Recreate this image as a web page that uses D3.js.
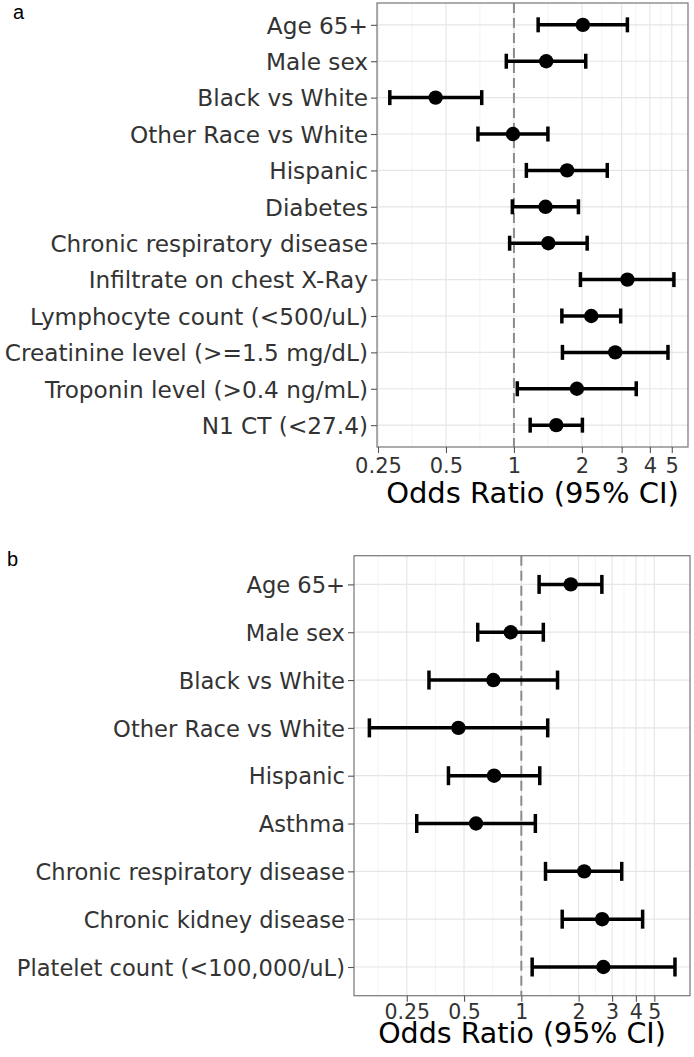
<!DOCTYPE html>
<html>
<head>
<meta charset="utf-8">
<script src="https://cdn.jsdelivr.net/npm/d3@7"></script>
<style>
  html, body { margin: 0; padding: 0; background: #fff; }
  svg { display: block; }
</style>
</head>
<body>
<svg id="chart" width="694" height="1057"></svg>
<script>
// ---------- Panel a data ----------
const categoriesA = [
  "Age 65+", "Male sex", "Black vs White", "Other Race vs White", "Hispanic",
  "Diabetes", "Chronic respiratory disease", "Infiltrate on chest X-Ray",
  "Lymphocyte count (<500/uL)", "Creatinine level (>=1.5 mg/dL)",
  "Troponin level (>0.4 ng/mL)", "N1 CT (<27.4)"
];
const orA    = [2.02, 1.39, 0.45, 0.99, 1.72, 1.38, 1.42, 3.18, 2.20, 2.81, 1.90, 1.54];
const lowerA = [1.28, 0.925, 0.282, 0.693, 1.135, 0.984, 0.957, 1.97, 1.63, 1.64, 1.035, 1.18];
const upperA = [3.18, 2.08, 0.72, 1.414, 2.59, 1.93, 2.11, 5.11, 2.97, 4.81, 3.48, 2.01];

// ---------- Panel b data ----------
const categoriesB = [
  "Age 65+", "Male sex", "Black vs White", "Other Race vs White", "Hispanic",
  "Asthma", "Chronic respiratory disease", "Chronic kidney disease",
  "Platelet count (<100,000/uL)"
];
const orB    = [1.82, 0.88, 0.713, 0.467, 0.719, 0.578, 2.14, 2.66, 2.70];
const lowerB = [1.24, 0.59, 0.327, 0.159, 0.414, 0.282, 1.34, 1.64, 1.14];
const upperB = [2.65, 1.305, 1.55, 1.376, 1.25, 1.185, 3.37, 4.34, 6.42];

// ---------- Axis breaks ----------
const xTicks = [0.25, 0.5, 1, 2, 3, 4, 5];
const xTickLabels = ["0.25", "0.5", "1", "2", "3", "4", "5"];
const minorA = [0.3536, 0.7071, 1.4142, 2.4495, 3.4641, 4.4721];
const minorB = [0.1768, 0.3536, 0.7071, 1.4142, 2.4495, 3.4641, 4.4721];
const xDomainA = [0.2475, 5.9];
const xDomainB = [0.132, 7.7];
const xTitle = "Odds Ratio (95% CI)";

const svg = d3.select("#chart");

function panel(cfg) {
  const { left, right, top, bottom, cats, or, lo, hi, domain, minor,
          tickLabelDy, titleDy, capH, label, labelX, labelY,
          yFont, tickFont, titleFont } = cfg;
  const g = svg.append("g");
  const x = d3.scaleLog().domain(domain).range([left, right]);
  const y = d3.scalePoint().domain(cats).range([top, bottom]).padding(0.6);

  g.append("rect").attr("x", left).attr("y", top)
    .attr("width", right - left).attr("height", bottom - top).attr("fill", "#fff");

  // minor grid
  g.selectAll(".minor").data(minor.filter(v => x(v) > left && x(v) < right)).enter()
    .append("line")
    .attr("x1", d => x(d)).attr("x2", d => x(d))
    .attr("y1", top).attr("y2", bottom)
    .attr("stroke", "#f0f0f0").attr("stroke-width", 0.8);
  // major grid vertical
  g.selectAll(".majorx").data(xTicks).enter().append("line")
    .attr("x1", d => x(d)).attr("x2", d => x(d))
    .attr("y1", top).attr("y2", bottom)
    .attr("stroke", "#e6e6e6").attr("stroke-width", 1.2);
  // major grid horizontal
  g.selectAll(".majory").data(cats).enter().append("line")
    .attr("x1", left).attr("x2", right)
    .attr("y1", d => y(d)).attr("y2", d => y(d))
    .attr("stroke", "#e6e6e6").attr("stroke-width", 1.2);

  // dashed reference line at 1
  g.append("line")
    .attr("x1", x(1)).attr("x2", x(1)).attr("y1", top).attr("y2", bottom)
    .attr("stroke", "#8c8c8c").attr("stroke-width", 2)
    .attr("stroke-dasharray", "10,5");

  const rows = cats.map((c, i) => ({ c, or: or[i], lo: lo[i], hi: hi[i] }));

  // error bars
  const eb = g.selectAll(".eb").data(rows).enter().append("g");
  eb.append("line")
    .attr("x1", d => x(d.lo)).attr("x2", d => x(d.hi))
    .attr("y1", d => y(d.c)).attr("y2", d => y(d.c))
    .attr("stroke", "#000").attr("stroke-width", 3.5);
  eb.append("line")
    .attr("x1", d => x(d.lo)).attr("x2", d => x(d.lo))
    .attr("y1", d => y(d.c) - capH / 2).attr("y2", d => y(d.c) + capH / 2)
    .attr("stroke", "#000").attr("stroke-width", 3.5);
  eb.append("line")
    .attr("x1", d => x(d.hi)).attr("x2", d => x(d.hi))
    .attr("y1", d => y(d.c) - capH / 2).attr("y2", d => y(d.c) + capH / 2)
    .attr("stroke", "#000").attr("stroke-width", 3.5);
  // points
  g.selectAll(".pt").data(rows).enter().append("circle")
    .attr("cx", d => x(d.or)).attr("cy", d => y(d.c)).attr("r", 7.2)
    .attr("fill", "#000");

  // border
  g.append("rect").attr("x", left).attr("y", top)
    .attr("width", right - left).attr("height", bottom - top)
    .attr("fill", "none").attr("stroke", "#808080").attr("stroke-width", 1.3);

  // y axis
  const yAxis = g.append("g").attr("transform", `translate(${left},0)`)
    .call(d3.axisLeft(y).tickSize(6).tickPadding(3));
  yAxis.select(".domain").remove();
  yAxis.selectAll(".tick line").attr("stroke", "#555").attr("stroke-width", 1.1);
  yAxis.selectAll(".tick text")
    .attr("font-family", "DejaVu Sans").attr("font-size", yFont + "px")
    .attr("fill", "#333").attr("dy", "0.36em");

  // x axis
  const xAxis = g.append("g").attr("transform", `translate(0,${bottom})`)
    .call(d3.axisBottom(x).tickValues(xTicks)
      .tickFormat((d, i) => xTickLabels[i]).tickSize(6).tickPadding(3));
  xAxis.select(".domain").remove();
  xAxis.selectAll(".tick line").attr("stroke", "#555").attr("stroke-width", 1.1);
  xAxis.selectAll(".tick text")
    .attr("font-family", "DejaVu Sans").attr("font-size", tickFont + "px")
    .attr("fill", "#333").attr("dy", null).attr("y", tickLabelDy);

  // x title
  g.append("text")
    .attr("x", (left + right) / 2).attr("y", bottom + titleDy)
    .attr("text-anchor", "middle")
    .attr("font-family", "DejaVu Sans").attr("font-size", titleFont + "px")
    .attr("fill", "#000").text(xTitle);

  // panel label
  svg.append("text").attr("x", labelX).attr("y", labelY)
    .attr("font-family", "Liberation Sans, Arial, sans-serif")
    .attr("font-size", "20px").attr("fill", "#000").text(label);
}

panel({
  left: 377, right: 688, top: 3, bottom: 447,
  cats: categoriesA, or: orA, lo: lowerA, hi: upperA,
  domain: xDomainA, minor: minorA,
  tickLabelDy: 26, titleDy: 56, capH: 15,
  yFont: 23.2, tickFont: 21, titleFont: 29,
  label: "a", labelX: 13, labelY: 19
});

panel({
  left: 354, right: 690, top: 555.7, bottom: 995.7,
  cats: categoriesB, or: orB, lo: lowerB, hi: upperB,
  domain: xDomainB, minor: minorB,
  tickLabelDy: 23.5, titleDy: 47, capH: 19,
  yFont: 22.6, tickFont: 20.5, titleFont: 28.5,
  label: "b", labelX: 7, labelY: 566
});
</script>
</body>
</html>
